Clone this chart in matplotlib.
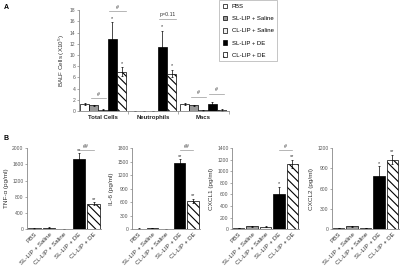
import matplotlib
matplotlib.use("Agg")
import matplotlib.pyplot as plt
import numpy as np

plt.rcParams['font.family'] = ['Liberation Sans', 'DejaVu Sans']
plt.rcParams['hatch.linewidth'] = 0.8

groups = ["PBS", "SL-LIP + Saline", "CL-LIP + Saline", "SL-LIP + DE", "CL-LIP + DE"]
cell_types = ["Total Cells", "Neutrophils", "Macs"]
balf_vals = {
    "PBS": [1.3, 0.05, 1.3],
    "SL-LIP + Saline": [1.0, 0.05, 1.0],
    "CL-LIP + Saline": [0.25, 0.05, 0.15],
    "SL-LIP + DE": [12.8, 11.5, 1.3],
    "CL-LIP + DE": [7.0, 6.7, 0.2],
}
balf_err = {
    "PBS": [0.2, 0.0, 0.2],
    "SL-LIP + Saline": [0.1, 0.0, 0.1],
    "CL-LIP + Saline": [0.05, 0.0, 0.05],
    "SL-LIP + DE": [3.0, 2.8, 0.3],
    "CL-LIP + DE": [0.8, 0.7, 0.1],
}
cyto_names = ["TNF-α (pg/ml)", "IL-6 (pg/ml)", "CXCL1 (pg/ml)", "CXCL2 (pg/ml)"]
cyto_vals = [
    [15, 35, 5, 1740, 630],
    [10, 25, 5, 1470, 630],
    [20, 45, 40, 610, 1130],
    [15, 40, 15, 790, 1030],
]
cyto_err = [
    [5, 8, 2, 130, 30],
    [3, 5, 2, 80, 50],
    [5, 8, 5, 120, 70],
    [3, 8, 3, 140, 70],
]
cyto_ylim = [(0, 2000, 400), (0, 1800, 300), (0, 1400, 200), (0, 1200, 300)]
cyto_stars = [["", "", "", "**", "**"], ["", "", "", "**", "**"],
              ["", "", "", "*", "**"], ["", "", "", "*", "**"]]
cyto_bracket = ["##", "##", "#", None]

faces = ["white", "#999999", "#f0f0f0", "black", "white"]
hatches = [None, None, None, None, "\\\\\\\\"]

fig = plt.figure(figsize=(4, 2.73), dpi=100)

def style(ax):
    for s in ["top", "right"]:
        ax.spines[s].set_visible(False)
    for s in ["left", "bottom"]:
        ax.spines[s].set_color("#888888")
        ax.spines[s].set_linewidth(0.6)
    ax.tick_params(axis="both", labelsize=3.6, colors="#888888", length=1.5, width=0.5, pad=1)
    for lbl in ax.get_yticklabels():
        lbl.set_color("#555555")

# Panel A
axA = fig.add_axes([0.1975, 0.593, 0.375, 0.37])
w = 0.185
x = np.arange(len(cell_types))
for i, g in enumerate(groups):
    pos = x + (i - 2) * w
    axA.bar(pos, balf_vals[g], w, color=faces[i], edgecolor="black", linewidth=0.5,
            hatch=hatches[i], label=g,
            yerr=balf_err[g], error_kw=dict(ecolor="black", elinewidth=0.5, capsize=1, capthick=0.5))
axA.set_ylim(0, 18)
axA.set_yticks(range(0, 19, 2))
axA.set_xlim(-0.48, 2.52)
style(axA)
axA.set_xticks([0.5, 1.5, 2.52])
axA.set_xticklabels([])
axA.tick_params(axis="x", length=2, direction="out")
for xi, ct in zip(x, cell_types):
    axA.text(xi, -0.7, ct, ha="center", va="top", fontsize=4.3, color="#222222",
             fontweight="bold")
axA.set_ylabel("BALF Cells (X10$^5$)", fontsize=4.5, color="#333333", labelpad=2)
for ci in range(2):
    for gi in (3, 4):
        g = groups[gi]
        top = balf_vals[g][ci] + balf_err[g][ci]
        axA.text(x[ci] + (gi - 2) * w, top + 0.3, "*", ha="center", va="bottom", fontsize=4, color="#333333")

def bracketA(x0, x1, y, label):
    axA.plot([x0, x1], [y, y], color="#999999", lw=0.5, clip_on=False)
    axA.text((x0 + x1) / 2, y + 0.3, label, ha="center", va="bottom", fontsize=3.8, color="#333333")

bracketA(x[0] - w * 1.3, x[0] + w * 0.3, 2.3, "#")
bracketA(x[0] + w * 0.7, x[0] + w * 2.5, 17.8, "#")
bracketA(x[1] + w * 0.7, x[1] + w * 2.5, 16.4, "p=0.11")
bracketA(x[2] - w * 1.3, x[2] + w * 0.3, 2.5, "#")
bracketA(x[2] + w * 0.7, x[2] + w * 2.3, 3.1, "#")

fig.text(0.01, 0.985, "A", fontsize=5, fontweight="bold", va="top")
fig.text(0.01, 0.505, "B", fontsize=5, fontweight="bold", va="top")

leg = axA.legend(loc="upper left", bbox_to_anchor=(219 / 400, 1.0), bbox_transform=fig.transFigure,
                 fontsize=4.3, frameon=True,
                 handlelength=0.8, handleheight=0.8, labelspacing=1.15, borderpad=0.6,
                 handletextpad=0.7, borderaxespad=0)
leg.get_frame().set_edgecolor("#999999")
leg.get_frame().set_linewidth(0.5)
leg.get_frame().set_boxstyle("square", pad=0)

# Panel B
lefts = [27 / 400, 132 / 400, 232 / 400, 332 / 400]
widths = [74 / 400, 68 / 400, 67 / 400, 67 / 400]
for k in range(4):
    ax = fig.add_axes([lefts[k], 0.161, widths[k], 0.296])
    xs = np.arange(5)
    for i in range(5):
        ax.bar(xs[i], cyto_vals[k][i], 0.85, color=faces[i], edgecolor="black", linewidth=0.5,
               hatch=hatches[i],
               yerr=cyto_err[k][i], error_kw=dict(ecolor="black", elinewidth=0.5, capsize=1, capthick=0.5))
    lo, hi, st = cyto_ylim[k]
    ax.set_ylim(lo, hi)
    ax.set_yticks(np.arange(lo, hi + 1, st))
    ax.set_xlim(-0.5, 4.5)
    style(ax)
    ax.set_xticks(xs)
    ax.set_xticklabels(groups, rotation=45, ha="right", rotation_mode="anchor", fontsize=4.4, color="#333333")
    ax.tick_params(axis="x", length=0, pad=2)
    ax.set_ylabel(cyto_names[k], fontsize=4.6, color="#333333", labelpad=2)
    for i in range(5):
        if cyto_stars[k][i]:
            ax.text(xs[i], cyto_vals[k][i] + cyto_err[k][i] + hi * 0.01, cyto_stars[k][i],
                    ha="center", va="bottom", fontsize=4, color="#333333")
    if cyto_bracket[k]:
        yb = hi * 0.98
        ax.plot([3, 4], [yb, yb], color="#999999", lw=0.5, clip_on=False)
        ax.text(3.5, yb + hi * 0.01, cyto_bracket[k], ha="center", va="bottom", fontsize=3.8, color="#333333")

fig.savefig("out.png", dpi=100)
